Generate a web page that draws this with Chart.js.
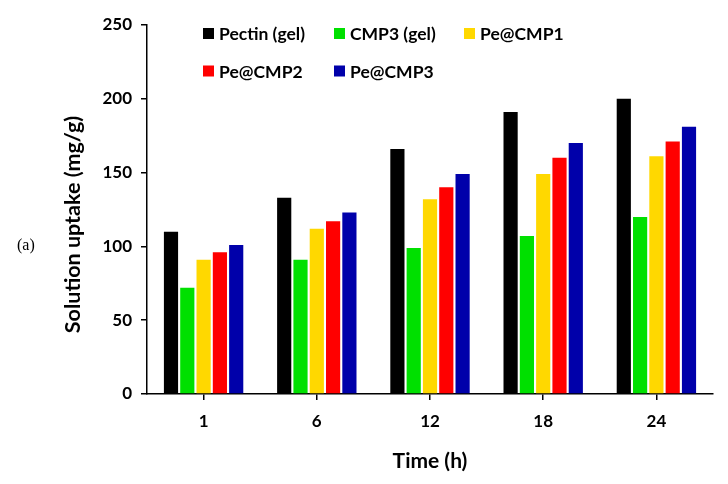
<!DOCTYPE html>
<html>
<head>
<meta charset="utf-8">
<script src="https://cdn.jsdelivr.net/npm/chart.js@4.4.1/dist/chart.umd.min.js"></script>
<style>
  html, body { margin: 0; padding: 0; background: #fff; }
  #wrap { position: relative; width: 728px; height: 484px; }
</style>
</head>
<body>
<div id="wrap"><canvas id="c" width="728" height="484"></canvas></div>
<script>
const categories = ["1", "6", "12", "18", "24"];
const seriesNames = ["Pectin (gel)", "CMP3 (gel)", "Pe@CMP1", "Pe@CMP2", "Pe@CMP3"];
const pectinGel = [110, 133, 166, 191, 200];
const cmp3Gel   = [72, 91, 99, 107, 120];
const peCMP1    = [91, 112, 132, 149, 161];
const peCMP2    = [96, 117, 140, 160, 171];
const peCMP3    = [101, 123, 149, 170, 181];
const yTicks = [0, 50, 100, 150, 200, 250];
const colors = ["#000000", "#00E000", "#FFD800", "#FF0000", "#0000AA"];
const yTitle = "Solution uptake (mg/g)";
const xTitle = "Time (h)";
const panelLabel = "(a)";

const seriesValues = [pectinGel, cmp3Gel, peCMP1, peCMP2, peCMP3];
const FONT = 'Lato, "Open Sans", sans-serif';

const extrasPlugin = {
  id: 'extras',
  afterDraw(chart) {
    const ctx = chart.ctx;
    ctx.save();
    // legend
    ctx.font = 'bold 17.5px ' + FONT;
    ctx.textBaseline = 'middle';
    ctx.textAlign = 'left';
    const colX = [203, 334, 464];
    const rowY = [33.5, 71];
    chart.data.datasets.forEach((ds, i) => {
      const row = i < 3 ? 0 : 1;
      const x = colX[i % 3];
      const y = rowY[row];
      ctx.fillStyle = ds.backgroundColor;
      ctx.fillRect(x, y - 5.5, 11, 11);
      ctx.fillStyle = '#000';
      ctx.fillText(ds.label, x + 16, y + 1);
    });
    // y title
    ctx.save();
    ctx.translate(73, 224.5);
    ctx.rotate(-Math.PI / 2);
    ctx.textAlign = 'center';
    ctx.font = 'bold 21.5px ' + FONT;
    ctx.fillText(yTitle, 0, 0);
    ctx.restore();
    // panel label
    ctx.font = '16px "Liberation Serif", serif';
    ctx.textAlign = 'left';
    ctx.fillText(panelLabel, 17, 246);
    ctx.restore();
  }
};

new Chart(document.getElementById('c'), {
  type: 'bar',
  data: {
    labels: categories,
    datasets: seriesNames.map((n, i) => ({
      label: n,
      data: seriesValues[i],
      backgroundColor: colors[i],
      borderWidth: 0,
      categoryPercentage: 0.72,
      barPercentage: 0.87
    }))
  },
  options: {
    responsive: false,
    animation: false,
    layout: { padding: { left: 62, right: 15, top: 25, bottom: 10 } },
    plugins: { legend: { display: false }, tooltip: { enabled: false } },
    scales: {
      x: {
        offset: true,
        grid: { offset: false, drawOnChartArea: false, color: '#000', tickLength: 6, lineWidth: 1.5 },
        border: { color: '#000', width: 1.5 },
        ticks: { color: '#000', font: { family: FONT, weight: 'bold', size: 17 }, padding: 11 },
        title: { display: true, text: xTitle, color: '#000', font: { family: FONT, weight: 'bold', size: 21 }, padding: { top: 0, bottom: 0 } },
        afterFit(scale) { scale.height = 80; }
      },
      y: {
        min: 0, max: 250,
        afterBuildTicks(scale) { scale.ticks = yTicks.map(v => ({ value: v })); },
        grid: { drawOnChartArea: false, color: '#000', tickLength: 6, lineWidth: 1.5 },
        border: { color: '#000', width: 1.5 },
        ticks: { color: '#000', font: { family: FONT, weight: 'bold', size: 17 }, padding: 9 },
        afterFit(scale) { scale.width = 85; }
      }
    }
  },
  plugins: [extrasPlugin]
});
</script>
</body>
</html>
